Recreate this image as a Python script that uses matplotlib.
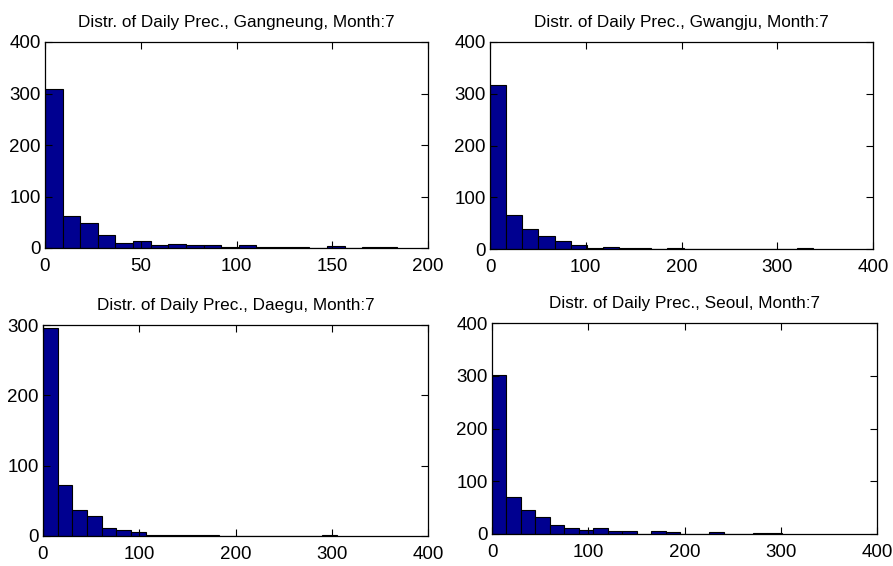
import numpy as np
import matplotlib
matplotlib.use("Agg")
import matplotlib.pyplot as plt

plt.rcParams["font.family"] = ["Liberation Sans", "DejaVu Sans"]

# ================ data (counts per bin, 20 bins each) ================
stations = ["Gangneung", "Gwangju", "Daegu", "Seoul"]
month = 7

# upper edge of the last bin (mm)
bin_max = [184, 337, 305, 301]

counts_gangneung = [308, 62, 49, 26, 10, 14, 5, 8, 5, 5, 2, 5, 2, 1, 1, 0, 3, 0, 2, 1]
counts_gwangju = [316, 66, 39, 25, 16, 7, 2, 4, 1, 1, 0, 2, 0, 0, 0, 0, 0, 0, 0, 2]
counts_daegu = [296, 72, 37, 29, 11, 9, 5, 2, 2, 1, 1, 1, 0, 0, 0, 0, 0, 0, 0, 2]
counts_seoul = [302, 70, 46, 32, 18, 11, 8, 12, 5, 5, 0, 6, 3, 0, 0, 3, 0, 0, 2, 2]
all_counts = [counts_gangneung, counts_gwangju, counts_daegu, counts_seoul]

x_limits = [200, 400, 400, 400]
x_step = [50, 100, 100, 100]
y_limits = [400, 400, 300, 400]

# ================ layout (pixels) ================
W, H = 893, 566
fig = plt.figure(figsize=(W / 100, H / 100), dpi=100)

# left, right, top, bottom in pixels
boxes = [
    (45, 428, 42, 248),
    (490, 873, 42, 249),
    (43, 428, 325, 536),
    (492, 877, 323, 534),
]

bar_color = "#000090"

for i in range(4):
    l, r, t, b = boxes[i]
    ax = fig.add_axes([l / W, 1 - b / H, (r - l) / W, (b - t) / H])

    edges = np.linspace(0, bin_max[i], 21)
    ax.bar(edges[:-1], all_counts[i], width=np.diff(edges), align="edge",
           color=bar_color, edgecolor="black", linewidth=0.8)

    ax.set_xlim(0, x_limits[i])
    ax.set_ylim(0, y_limits[i])
    ax.set_xticks(np.arange(0, x_limits[i] + 1, x_step[i]))
    ax.set_yticks(np.arange(0, y_limits[i] + 1, 100))

    # matlab style box with inward ticks on all sides
    ax.tick_params(direction="in", top=True, right=True, length=5, width=0.8,
                   labelsize=13.5)
    ax.tick_params(axis="x", pad=7)
    ax.tick_params(axis="y", pad=3)
    for s in ax.spines.values():
        s.set_linewidth(0.9)

    ax.set_title("Distr. of Daily Prec., %s, Month:%d" % (stations[i], month),
                 fontsize=12.3, pad=11)

plt.savefig("out.png", dpi=100)
